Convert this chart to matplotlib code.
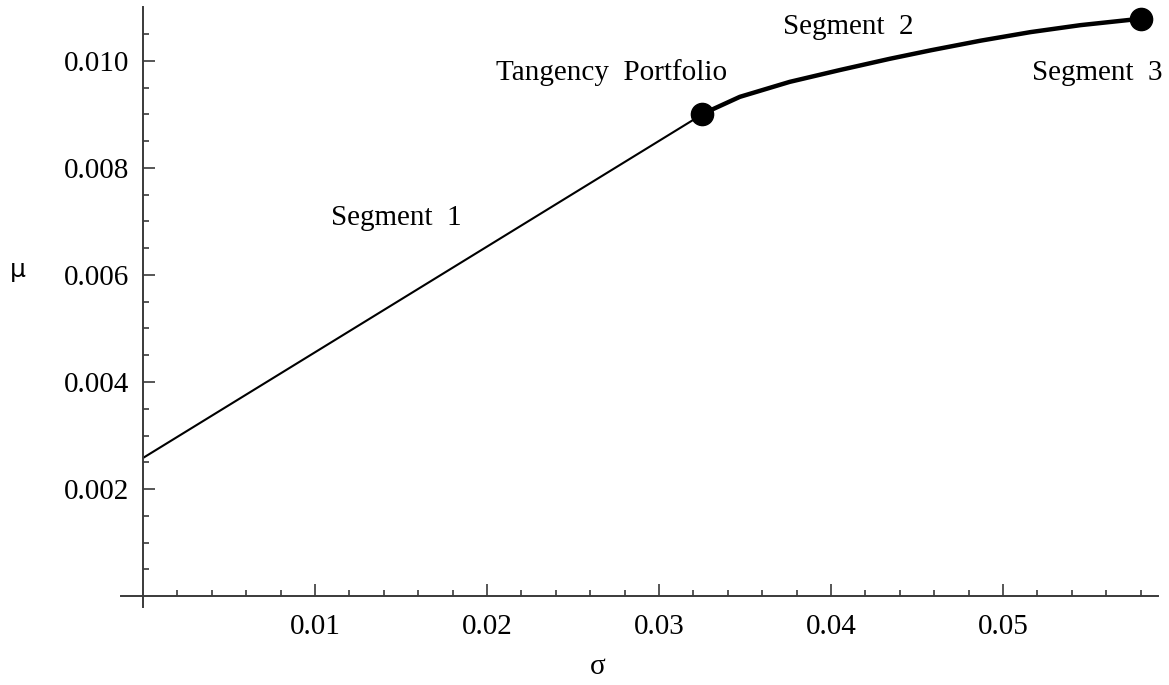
import numpy as np
import matplotlib
matplotlib.use('Agg')
import matplotlib.pyplot as plt
from matplotlib.ticker import FixedLocator, FormatStrFormatter

plt.rcParams['font.family'] = ['Liberation Serif', 'DejaVu Serif']

# segment 1: capital market line from risk free rate to tangency portfolio
seg1_sigma = [0.0, 0.0325]
seg1_mu = [0.00258, 0.0090]

# segment 2: efficient frontier from tangency portfolio to the end point
seg2_sigma = [0.0325, 0.0330, 0.0347, 0.0376, 0.0405, 0.0434, 0.0458, 0.0487, 0.0516, 0.0545, 0.0580]
seg2_mu = [0.0090, 0.00908, 0.00933, 0.00961, 0.00983, 0.01004, 0.01020, 0.01038, 0.01054, 0.01067, 0.01079]

dot_sigma = [0.0325, 0.0580]
dot_mu = [0.0090, 0.01079]

x_major = [0.01, 0.02, 0.03, 0.04, 0.05]
y_major = [0.002, 0.004, 0.006, 0.008, 0.010]

# pixel mapping of the picture: x_px = 143 + 17200*x ; y_px = 596 - 53500*y
W, H = 1169, 685
fig = plt.figure(figsize=(W/100, H/100), dpi=100)
ax = fig.add_axes([0, 0, 1, 1])
ax.set_xlim(-143/17200, (W-143)/17200)
ax.set_ylim((596-H)/53500, 596/53500)

axcol = '#3a3a3a'
ax.plot(seg1_sigma, seg1_mu, color='black', lw=1.5, solid_capstyle='round')
ax.plot(seg2_sigma, seg2_mu, color='black', lw=3.2, solid_capstyle='round',
        solid_joinstyle='round')
ax.plot(dot_sigma, dot_mu, 'o', color='black', ms=16, zorder=5)

for s in ['top', 'right']:
    ax.spines[s].set_visible(False)
ax.spines['left'].set_position(('data', 0))
ax.spines['bottom'].set_position(('data', 0))
ax.spines['left'].set_bounds(-0.0002, 0.01101)
ax.spines['bottom'].set_bounds(-0.00128, 0.0590)
for s in ['left', 'bottom']:
    ax.spines[s].set_color(axcol)
    ax.spines[s].set_linewidth(1.4)

x_minor = [v for v in np.arange(0.002, 0.0585, 0.002) if min(abs(v - m) for m in x_major) > 1e-6]
y_minor = [v for v in np.arange(0.0005, 0.0108, 0.0005) if min(abs(v - m) for m in y_major) > 1e-6]
ax.xaxis.set_major_locator(FixedLocator(x_major))
ax.xaxis.set_minor_locator(FixedLocator(x_minor))
ax.yaxis.set_major_locator(FixedLocator(y_major))
ax.yaxis.set_minor_locator(FixedLocator(y_minor))
ax.xaxis.set_major_formatter(FormatStrFormatter('%.2f'))
ax.yaxis.set_major_formatter(FormatStrFormatter('%.3f'))

ax.tick_params(which='both', direction='in', color=axcol, width=1.2, labelsize=21)
ax.tick_params(which='major', length=8.5)
ax.tick_params(which='minor', length=4.5)
ax.tick_params(axis='x', pad=13)
ax.tick_params(axis='y', pad=10)

fs = 21
fig.text(612/W, 1-73/H, 'Tangency  Portfolio', ha='center', va='center', fontsize=fs)
fig.text(396/W, 1-218/H, 'Segment  1', ha='center', va='center', fontsize=fs)
fig.text(848/W, 1-27/H, 'Segment  2', ha='center', va='center', fontsize=fs)
fig.text(1097/W, 1-73/H, 'Segment  3', ha='center', va='center', fontsize=fs)
fig.text(18/W, 1-270/H, 'μ', ha='center', va='center', fontsize=18, family='DejaVu Sans')
fig.text(598/W, 1-667/H, 'σ', ha='center', va='center', fontsize=21)

fig.savefig('out.png', dpi=100)
